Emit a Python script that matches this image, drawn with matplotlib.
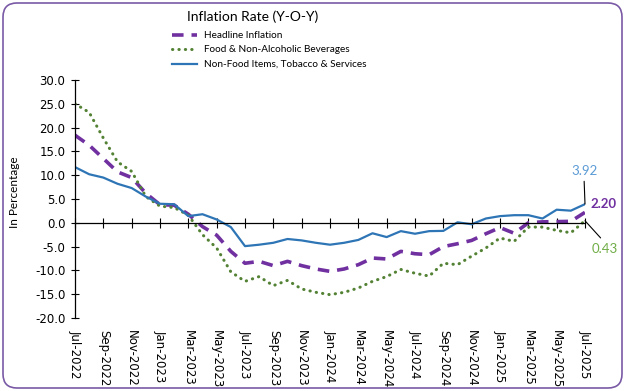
import matplotlib
matplotlib.use("Agg")
import matplotlib.pyplot as plt
from matplotlib.patches import FancyBboxPatch
from matplotlib.transforms import IdentityTransform

months = ["Jul-2022", "Aug-2022", "Sep-2022", "Oct-2022", "Nov-2022", "Dec-2022",
          "Jan-2023", "Feb-2023", "Mar-2023", "Apr-2023", "May-2023", "Jun-2023",
          "Jul-2023", "Aug-2023", "Sep-2023", "Oct-2023", "Nov-2023", "Dec-2023",
          "Jan-2024", "Feb-2024", "Mar-2024", "Apr-2024", "May-2024", "Jun-2024",
          "Jul-2024", "Aug-2024", "Sep-2024", "Oct-2024", "Nov-2024", "Dec-2024",
          "Jan-2025", "Feb-2025", "Mar-2025", "Apr-2025", "May-2025", "Jun-2025",
          "Jul-2025"]

headline = [18.4, 16.3, 13.5, 10.7, 9.5, 6.2, 3.8, 3.7, 1.8, -0.8, -2.6, -6.0,
            -8.5, -8.1, -9.0, -8.1, -9.0, -9.7, -10.2, -9.7, -8.8, -7.4, -7.6, -6.0,
            -6.5, -6.7, -5.0, -4.4, -3.7, -2.3, -1.0, -2.2, 0.0, 0.2, 0.25, 0.3, 2.20]

food = [25.0, 23.2, 17.8, 12.8, 10.8, 5.5, 3.5, 3.2, 1.6, -2.5, -5.3, -10.3,
        -12.3, -11.3, -13.2, -12.1, -13.9, -14.6, -15.1, -14.6, -13.7, -12.3, -11.3, -9.8,
        -10.6, -11.2, -8.5, -8.8, -7.0, -5.3, -3.2, -3.9, -0.9, -0.9, -1.6, -2.1, 0.43]

nonfood = [11.7, 10.2, 9.5, 8.2, 7.3, 5.5, 4.0, 3.9, 1.4, 1.8, 0.7, -0.9,
           -4.9, -4.6, -4.2, -3.4, -3.7, -4.2, -4.6, -4.2, -3.6, -2.2, -3.0, -1.75,
           -2.3, -1.75, -1.7, 0.1, -0.3, 0.9, 1.4, 1.6, 1.6, 0.9, 2.75, 2.55, 3.92]

series_names = ["Headline Inflation", "Food & Non-Alcoholic Beverages",
                "Non-Food Items, Tobacco & Services"]
yticks = [-20, -15, -10, -5, 0, 5, 10, 15, 20, 25, 30]

C_HEAD = "#7030A0"
C_FOOD = "#548235"
C_FOOD_LBL = "#70AD47"
C_NF = "#2E75B6"
C_NF_LBL = "#5B9BD5"

fig = plt.figure(figsize=(6.25, 3.91), dpi=100)
ax = fig.add_axes([75 / 625, 1 - 318 / 391, 510 / 625, 238 / 391])

x = list(range(len(months)))
l1, = ax.plot(x, headline, color=C_HEAD, lw=2.6, linestyle=(0, (3.2, 2.2)), label=series_names[0])
l2, = ax.plot(x, food, color=C_FOOD, lw=2.2, linestyle=(0, (0.1, 2.0)),
              dash_capstyle="round", label=series_names[1])
l3, = ax.plot(x, nonfood, color=C_NF, lw=1.6, label=series_names[2])

ax.set_xlim(0, 36)
ax.set_ylim(-20, 30)
ax.set_yticks(yticks)
ax.set_yticklabels([f"{v:.1f}" for v in yticks], fontsize=8.5, family="DejaVu Sans")
ax.tick_params(axis="y", direction="inout", length=6, width=0.8, pad=4)

for s in ["top", "right"]:
    ax.spines[s].set_visible(False)
ax.spines["left"].set_linewidth(0.9)
ax.spines["bottom"].set_position(("data", 0))
ax.spines["bottom"].set_linewidth(0.9)
ax.set_xticks(x[::2])
ax.tick_params(axis="x", direction="inout", length=7, width=0.8, labelbottom=False)

for i in x[::2]:
    ax.text(i, -0.05, months[i], transform=ax.get_xaxis_transform(), rotation=270,
            ha="center", va="top", fontsize=8.5, family="DejaVu Sans")

# data labels
ax.annotate("3.92", xy=(36, nonfood[-1]), xytext=(-1, 33), textcoords="offset pixels",
            ha="center", va="center", color=C_NF_LBL, fontsize=9.5, family="Lato",
            arrowprops=dict(arrowstyle="-", color="black", lw=0.8, shrinkA=1, shrinkB=0,
                            relpos=(0.5, 0.0)))
ax.annotate("2.20", xy=(36, headline[-1]), xytext=(19, 8), textcoords="offset pixels",
            ha="center", va="center", color=C_HEAD, fontsize=9.5, family="Lato",
            fontweight="bold")
ax.annotate("0.43", xy=(36, food[-1]), xytext=(20, -28), textcoords="offset pixels",
            ha="center", va="center", color=C_FOOD_LBL, fontsize=9.5, family="Lato",
            arrowprops=dict(arrowstyle="-", color="black", lw=0.8, shrinkA=2, shrinkB=0,
                            relpos=(0.5, 1.0)))

fig.text(253 / 625, 1 - 17 / 391, "Inflation Rate (Y-O-Y)", ha="center", va="center",
         fontsize=10, family="Lato")
fig.text(15 / 625, 1 - 192 / 391, "In Percentage", rotation=90, ha="center", va="center",
         fontsize=8.5, family="Lato")

fig.legend(handles=[l1, l2, l3], loc="upper left",
           bbox_to_anchor=(172 / 625, 1 - 31 / 391), frameon=False,
           prop={"family": "Lato", "size": 7.2}, handlelength=2.5,
           handletextpad=0.75, labelspacing=0.55, borderaxespad=0, borderpad=0)

border = FancyBboxPatch((3, 3), 619, 385, boxstyle="round,pad=0,rounding_size=14",
                        transform=IdentityTransform(), fill=False,
                        edgecolor="#7A5AA6", linewidth=1.2)
fig.patches.append(border)

fig.savefig("out.png", dpi=100)
